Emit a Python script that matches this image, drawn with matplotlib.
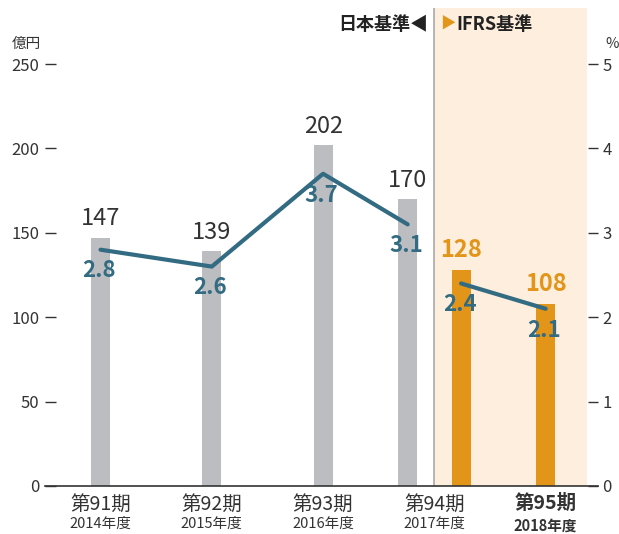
import matplotlib
matplotlib.use("Agg")
import matplotlib.pyplot as plt

plt.rcParams['font.family'] = ['Noto Sans CJK JP', 'DejaVu Sans']

periods = ['第91期', '第92期', '第93期', '第94期', '第95期']
years = ['2014年度', '2015年度', '2016年度', '2017年度', '2018年度']
jgaap_profit = [147, 139, 202, 170]
jgaap_ratio = [2.8, 2.6, 3.7, 3.1]
ifrs_profit = [128, 108]
ifrs_ratio = [2.4, 2.1]

gray = '#bcbdc1'
orange = '#e3951a'
teal = '#336b82'
shade = '#fdeedd'
txt = '#333333'

fig = plt.figure(figsize=(6.19, 5.34), dpi=100)
ax = fig.add_axes([45/619, 48/534, 553/619, 478/534])
ax2 = ax.twinx()

shift = 0.24
xj = [0, 1, 2, 3 - shift]
xi = [3 + shift, 4]
w = 0.17

ax.set_xlim(-0.4987, 4.47)
ax.set_ylim(0, 283.2)
ax2.set_ylim(0, 283.2 / 50)

ax.axvspan(3.0, 4.371, color=shade, zorder=0, lw=0)
ax.axvline(3.0, color='#aaaaaa', lw=1.2, zorder=1)

ax.bar(xj, jgaap_profit, width=w, color=gray, zorder=2)
ax.bar(xi, ifrs_profit, width=w, color=orange, zorder=2)

for x, v in zip(xj, jgaap_profit):
    ax.annotate(str(v), (x, v), xytext=(0, 9), textcoords='offset points',
                ha='center', va='baseline', fontsize=17, color=txt)
for x, v in zip(xi, ifrs_profit):
    ax.annotate(str(v), (x, v), xytext=(0, 9), textcoords='offset points',
                ha='center', va='baseline', fontsize=17, color=orange,
                fontweight='bold')

ax2.plot(xj, jgaap_ratio, color=teal, lw=3, solid_capstyle='round',
         solid_joinstyle='round', zorder=3)
ax2.plot(xi, ifrs_ratio, color=teal, lw=3, solid_capstyle='round', zorder=3)
for x, v in zip(xj + xi, jgaap_ratio + ifrs_ratio):
    ax2.annotate(f'{v:.1f}', (x, v), xytext=(-1, -20), textcoords='offset points',
                 ha='center', va='baseline', fontsize=16, color=teal,
                 fontweight='bold')

for a in (ax, ax2):
    for s in ('top', 'left', 'right'):
        a.spines[s].set_visible(False)
ax.spines['bottom'].set_color('#333333')
ax.spines['bottom'].set_linewidth(1.2)
ax2.spines['bottom'].set_visible(False)

ax.set_yticks([0, 50, 100, 150, 200, 250])
ax.tick_params(axis='y', direction='in', length=8, width=1, color=txt,
               labelsize=12, labelcolor=txt, pad=4)
ax2.set_yticks([0, 1, 2, 3, 4, 5])
ax2.tick_params(axis='y', direction='in', length=7, width=1, color=txt,
                labelsize=12, labelcolor=txt, pad=3)

ax.set_xticks(range(5))
ax.set_xticklabels([])
ax.tick_params(axis='x', length=0)
for i, (p, y) in enumerate(zip(periods, years)):
    bold = 'bold' if i == 4 else 'normal'
    ax.annotate(p, (i, 0), xytext=(0, -6), textcoords='offset points',
                ha='center', va='top', fontsize=14, color=txt, fontweight=bold,
                annotation_clip=False)
    ax.annotate(y, (i, 0), xytext=(0, -22.5), textcoords='offset points',
                ha='center', va='top', fontsize=10.5, color=txt, fontweight=bold,
                annotation_clip=False)

fig.text(12/619, 1 - 44/534, '億円', fontsize=10.5, color=txt, va='center')
fig.text(605/619, 1 - 44/534, '%', fontsize=10.5, color=txt, va='center')
fig.text(428/619, 1 - 24/534, '日本基準◀', fontsize=13, color='#222222',
         fontweight='bold', ha='right', va='center')
fig.text(440/619, 1 - 24/534, '▶', fontsize=11, color=orange,
         ha='left', va='center')
fig.text(456/619, 1 - 24/534, 'IFRS基準', fontsize=13, color='#222222',
         fontweight='bold', ha='left', va='center')

fig.savefig('out.png', dpi=100)
